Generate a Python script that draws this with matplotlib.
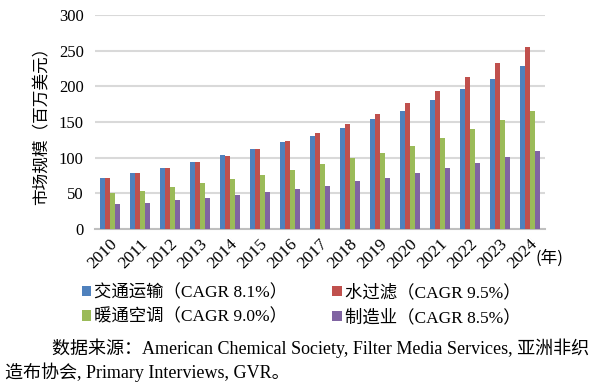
import matplotlib
matplotlib.use("Agg")
import matplotlib.pyplot as plt
import numpy as np

plt.rcParams['font.family'] = ['Liberation Serif', 'Noto Sans CJK SC', 'DejaVu Sans']

years = [str(y) for y in range(2010, 2025)]
series_names = ["交通运输（CAGR 8.1%）", "水过滤（CAGR 9.5%）", "暖通空调（CAGR 9.0%）", "制造业（CAGR 8.5%）"]
transport = [72, 78, 86, 94, 104, 112, 122, 131, 142, 154, 166, 181, 196, 211, 228]
water = [72, 78, 86, 94, 103, 112, 123, 134, 147, 161, 177, 194, 213, 233, 255]
hvac = [50, 54, 59, 64, 70, 76, 83, 91, 99, 107, 117, 128, 140, 153, 166]
manuf = [35, 37, 41, 44, 48, 52, 56, 61, 67, 72, 78, 85, 93, 101, 110]
colors = ["#4F81BD", "#C0504D", "#9BBB59", "#8064A2"]
yticks = [0, 50, 100, 150, 200, 250, 300]

fig = plt.figure(figsize=(6, 3.85), dpi=100)
ax = fig.add_axes([0.158, 0.405, 0.75, 0.556])

x = np.arange(len(years))
w = 0.165
data = [transport, water, hvac, manuf]
handles = []
for i, (vals, c, n) in enumerate(zip(data, colors, series_names)):
    b = ax.bar(x + (i - 1.5) * w, vals, width=w * 0.92, color=c, label=n, zorder=3)
    handles.append(b)

ax.set_xlim(-0.5, len(years) - 0.5)
ax.set_ylim(0, 300)
ax.set_yticks(yticks)
ax.set_yticklabels([str(v) for v in yticks], fontsize=12)
ax.yaxis.grid(True, color="#D9D9D9", lw=1.5, zorder=0)
ax.set_axisbelow(True)
for s in ["top", "right", "left"]:
    ax.spines[s].set_visible(False)
ax.spines["bottom"].set_color("#BFBFBF")
ax.spines["bottom"].set_linewidth(1.5)
ax.tick_params(axis="both", length=0)
ax.tick_params(axis="y", pad=8)
ax.tick_params(axis="x", pad=5)
ax.set_xticks(x)
ax.set_xticklabels(years, rotation=45, ha="right", rotation_mode="anchor", fontsize=12.5)
ax.set_ylabel("市场规模（百万美元）", fontsize=12, family=['Noto Sans CJK SC'], labelpad=6)

fig.text(0.893, 0.330, "(年)", fontsize=12, family=['Noto Sans CJK SC'], va="center", ha="left")

order = [0, 2, 1, 3]
leg = fig.legend([handles[i] for i in order], [series_names[i] for i in order],
                 loc="center left", bbox_to_anchor=(0.125, 0.207), ncol=2, frameon=False,
                 fontsize=12.5, handlelength=0.55, handleheight=0.55, handletextpad=0.15,
                 columnspacing=2.6, labelspacing=0.45, borderaxespad=0)
for t in leg.get_texts():
    t.set_family(['Liberation Serif', 'Noto Sans CJK SC'])

fig.text(0.087, 0.095, "数据来源：American Chemical Society, Filter Media Services, 亚洲非织",
         fontsize=13, va="center", ha="left")
fig.text(0.008, 0.033, "造布协会, Primary Interviews, GVR。", fontsize=13, va="center", ha="left")

fig.savefig("out.png", dpi=100)
